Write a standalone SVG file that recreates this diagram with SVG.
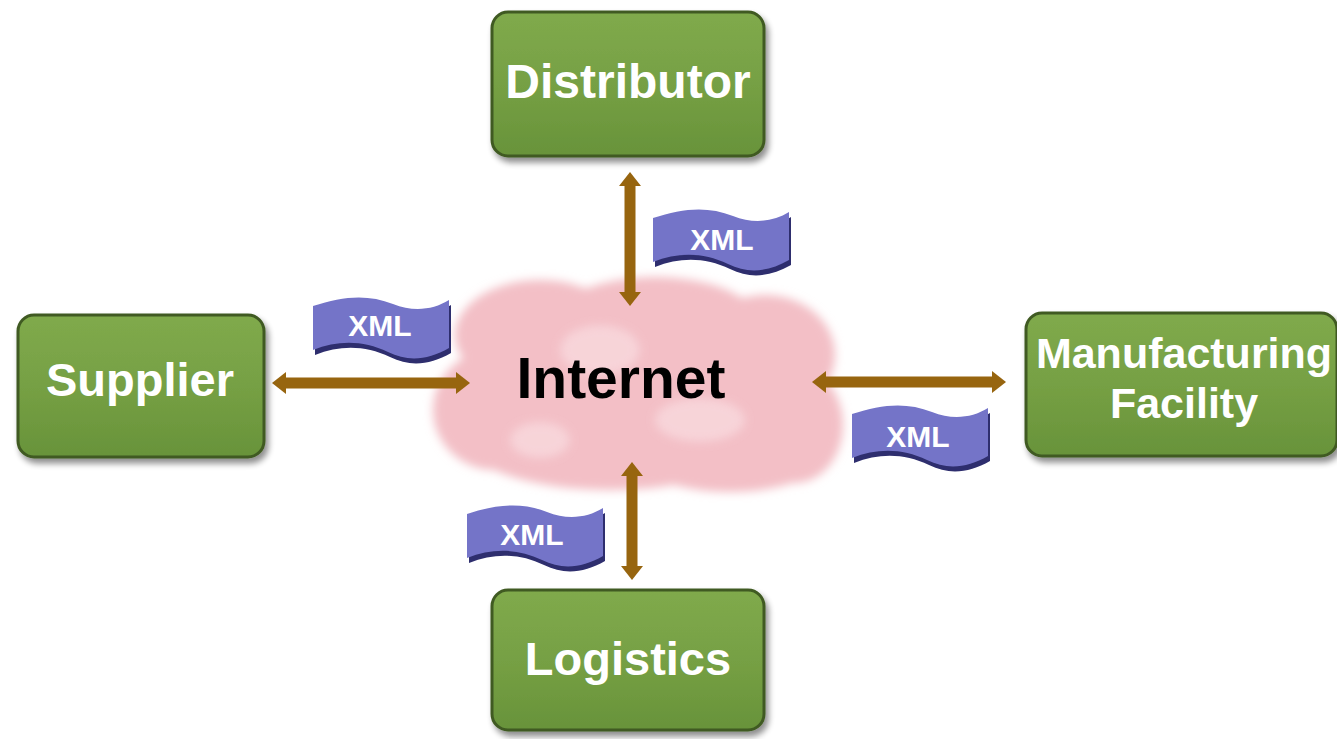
<svg xmlns="http://www.w3.org/2000/svg" width="1337" height="739" viewBox="0 0 1337 739">
<style>
.box{fill:url(#gGreen);stroke:#3f5a22;stroke-width:3;filter:url(#shadow)}
.lbl{font-family:"Liberation Sans",Arial,sans-serif;font-weight:bold;fill:#ffffff;text-anchor:middle}
.flag{fill:#7474c8}
.flagsh{fill:#2e2e6e}
.xml{font-family:"Liberation Sans",Arial,sans-serif;font-weight:bold;font-size:30px;fill:#ffffff;text-anchor:middle}
.arrow{stroke:#97650f;stroke-width:11;fill:none;marker-start:url(#head);marker-end:url(#head)}
</style>
<defs>
<linearGradient id="gGreen" x1="0" y1="0" x2="0" y2="1">
<stop offset="0" stop-color="#80aa4c"/>
<stop offset="0.5" stop-color="#76a044"/>
<stop offset="1" stop-color="#68933a"/>
</linearGradient>
<filter id="shadow" x="-10%" y="-10%" width="125%" height="130%">
<feGaussianBlur in="SourceAlpha" stdDeviation="3"/>
<feOffset dx="3" dy="5" result="b"/>
<feComponentTransfer><feFuncA type="linear" slope="0.45"/></feComponentTransfer>
<feMerge><feMergeNode/><feMergeNode in="SourceGraphic"/></feMerge>
</filter>
<filter id="blur" x="-10%" y="-10%" width="120%" height="120%">
<feGaussianBlur stdDeviation="5"/>
</filter>
<marker id="head" viewBox="0 0 14 22" refX="0" refY="11" markerWidth="14" markerHeight="22" markerUnits="userSpaceOnUse" orient="auto-start-reverse">
<path d="M0,0 L14,11 L0,22 Z" fill="#97650f"/>
</marker>
<path id="flagShape" d="M0,10 C30,0 55,-2 80,8 C100,16 120,14 136,4 L136,52 C115,64 95,66 75,56 C50,44 25,44 0,54 Z"/>
</defs>
<rect width="1337" height="739" fill="#ffffff"/>

<g id="internet">
<g filter="url(#blur)" fill="#f3bfc6">
<ellipse cx="540" cy="335" rx="85" ry="55"/>
<ellipse cx="655" cy="325" rx="105" ry="48"/>
<ellipse cx="765" cy="355" rx="70" ry="60"/>
<ellipse cx="795" cy="425" rx="48" ry="58"/>
<ellipse cx="495" cy="410" rx="62" ry="60"/>
<ellipse cx="610" cy="440" rx="145" ry="50"/>
<ellipse cx="730" cy="450" rx="100" ry="42"/>
<ellipse cx="640" cy="390" rx="150" ry="70"/>
</g>
<g filter="url(#blur)" fill="#f9dde1" opacity="0.7">
<ellipse cx="600" cy="350" rx="40" ry="25"/>
<ellipse cx="700" cy="420" rx="45" ry="22"/>
<ellipse cx="540" cy="440" rx="30" ry="18"/>
</g>
<text x="621" y="398" font-family="'Liberation Sans',Arial,sans-serif" font-weight="bold" font-size="57" fill="#000000" text-anchor="middle">Internet</text>
</g>

<g id="connectors">
<line class="arrow" x1="630" y1="186" x2="630" y2="292"/>
<line class="arrow" x1="286" y1="383" x2="456" y2="383"/>
<line class="arrow" x1="826" y1="382" x2="992" y2="382"/>
<line class="arrow" x1="632" y1="476" x2="632" y2="566"/>
</g>

<g id="distributor">
<rect class="box" x="492" y="12" width="272" height="144" rx="16"/>
<text class="lbl" x="628" y="98" font-size="48">Distributor</text>
</g>
<g id="supplier">
<rect class="box" x="18" y="315" width="246" height="142" rx="16"/>
<text class="lbl" x="140" y="396" font-size="47">Supplier</text>
</g>
<g id="manufacturing">
<rect class="box" x="1026" y="313" width="311" height="143" rx="16"/>
<text class="lbl" x="1184" y="368" font-size="43">Manufacturing</text>
<text class="lbl" x="1184" y="418" font-size="43">Facility</text>
</g>
<g id="logistics">
<rect class="box" x="492" y="590" width="272" height="140" rx="16"/>
<text class="lbl" x="628" y="675" font-size="47">Logistics</text>
</g>

<g id="xml-top" transform="translate(653,208)">
<use href="#flagShape" class="flagsh" transform="translate(2,5)"/>
<use href="#flagShape" class="flag"/>
<text class="xml" x="69" y="42">XML</text>
</g>
<g id="xml-supplier" transform="translate(313,296)">
<use href="#flagShape" class="flagsh" transform="translate(2,5)"/>
<use href="#flagShape" class="flag"/>
<text class="xml" x="67" y="40">XML</text>
</g>
<g id="xml-manufacturing" transform="translate(852,404)">
<use href="#flagShape" class="flagsh" transform="translate(2,5)"/>
<use href="#flagShape" class="flag"/>
<text class="xml" x="66" y="43">XML</text>
</g>
<g id="xml-logistics" transform="translate(467,504)">
<use href="#flagShape" class="flagsh" transform="translate(2,5)"/>
<use href="#flagShape" class="flag"/>
<text class="xml" x="65" y="41">XML</text>
</g>
</svg>
